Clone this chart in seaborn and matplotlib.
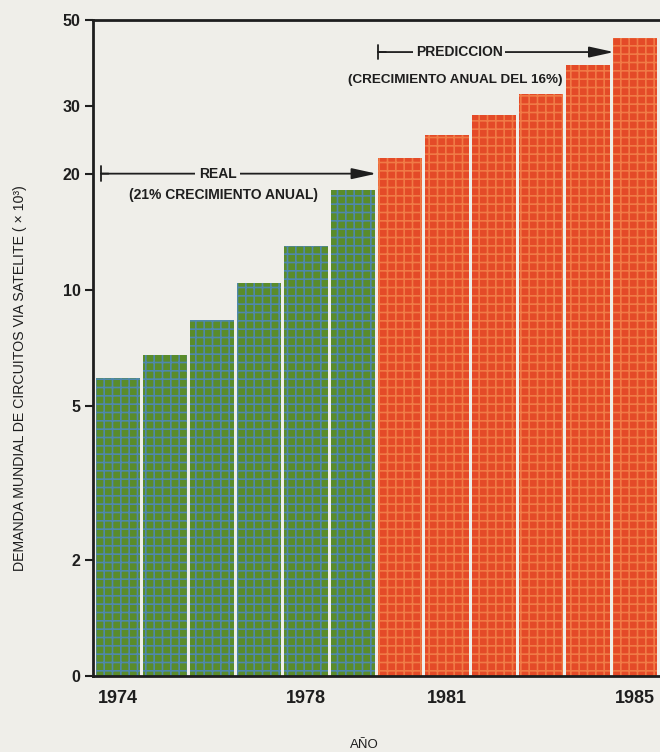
import matplotlib
matplotlib.use("Agg")
import matplotlib.pyplot as plt
import numpy as np
import pandas as pd
import seaborn as sns

# Demanda mundial de circuitos vía satélite (miles de circuitos)
anios = ["1974", "1975", "1976", "1977", "1978", "1979",
         "1980", "1981", "1982", "1983", "1984", "1985"]
valores = [5.9, 6.8, 8.35, 10.4, 13.0, 18.1,
           22.0, 25.2, 28.4, 32.2, 38.2, 44.9]
fases = ["Real"] * 6 + ["Predicción"] * 6

ytick_vals = [1, 2, 5, 10, 20, 30, 50]
ytick_labels = ["0", "2", "5", "10", "20", "30", "50"]
xtick_labels = ["1974", "1978", "1981", "1985"]

PAPER = "#efeee9"
INK = "#1e1e1e"
VERDE, VERDE_TRAMA = "#5a8c2a", "#4f88ab"
ROJO, ROJO_TRAMA = "#e44a28", "#f07a46"

sns.set_style("white")
plt.rcParams["font.family"] = ["Liberation Sans", "DejaVu Sans"]
plt.rcParams["hatch.linewidth"] = 1.2

df = pd.DataFrame({"anio": anios, "valor": valores, "fase": fases})

fig = plt.figure(figsize=(6.6, 7.52), dpi=100, facecolor=PAPER)
ax = fig.add_axes([93 / 660, 76 / 752, 1 - 93 / 660, (676 - 20) / 752])
ax.set_facecolor(PAPER)

sns.barplot(data=df, x="anio", y="valor", hue="fase",
            palette={"Real": VERDE, "Predicción": ROJO},
            dodge=False, width=0.94, saturation=1, legend=False, ax=ax)

# plaid-like texture on the bars
for p in ax.patches:
    centro = p.get_x() + p.get_width() / 2
    p.set_hatch("++")
    p.set_edgecolor(VERDE_TRAMA if centro < 5.5 else ROJO_TRAMA)
    p.set_linewidth(0)

ax.set_yscale("log")
ax.set_ylim(1, 50)
ax.set_xlim(-0.53, 11.53)
ax.set_yticks(ytick_vals)
ax.set_yticklabels(ytick_labels)
ax.yaxis.set_minor_locator(matplotlib.ticker.NullLocator())
ax.set_xticks([anios.index(a) for a in xtick_labels])
ax.set_xticklabels(xtick_labels)
ax.set_xlabel("")
ax.set_ylabel("")

for lab in ax.get_yticklabels():
    lab.set_fontweight("bold")
    lab.set_fontsize(11.5)
    lab.set_color(INK)
for lab in ax.get_xticklabels():
    lab.set_fontweight("bold")
    lab.set_fontsize(13)
    lab.set_color(INK)

ax.tick_params(axis="y", direction="out", length=6, width=1.5, pad=3, color=INK, left=True)
ax.tick_params(axis="x", length=0, pad=10)

for side in ["left", "bottom", "top"]:
    ax.spines[side].set_visible(True)
    ax.spines[side].set_color(INK)
    ax.spines[side].set_linewidth(2.0)
ax.spines["right"].set_visible(False)

arrow_kw = dict(color=INK, lw=1.3, shrinkA=0, shrinkB=0, mutation_scale=15)
txt_kw = dict(fontsize=10, fontweight="bold", color=INK)

# REAL arrow
y_real = 20
ax.annotate("", xy=(5.5, y_real), xytext=(-0.36, y_real),
            arrowprops=dict(arrowstyle="-|>,head_length=1.0,head_width=0.22", **arrow_kw))
ax.annotate("", xy=(-0.2, y_real), xytext=(-0.36, y_real),
            arrowprops=dict(arrowstyle="|-|,widthA=0.35,widthB=0", **arrow_kw))
ax.text(2.12, y_real, "REAL", ha="center", va="center",
        bbox=dict(boxstyle="square,pad=0.25", fc=PAPER, ec="none"), **txt_kw)
ax.text(2.245, 17.6, "(21% CRECIMIENTO ANUAL)", ha="center", va="center", **txt_kw)

# PREDICCION arrow
y_pred = 41.3
ax.annotate("", xy=(10.55, y_pred), xytext=(5.53, y_pred),
            arrowprops=dict(arrowstyle="-|>,head_length=1.0,head_width=0.22", **arrow_kw))
ax.annotate("", xy=(5.7, y_pred), xytext=(5.53, y_pred),
            arrowprops=dict(arrowstyle="|-|,widthA=0.35,widthB=0", **arrow_kw))
ax.text(7.26, y_pred, "PREDICCION", ha="center", va="center",
        bbox=dict(boxstyle="square,pad=0.2", fc=PAPER, ec="none"), **txt_kw)
ax.text(7.18, 35.0, "(CRECIMIENTO ANUAL DEL 16%)", ha="center", va="center",
        fontsize=9.7, fontweight="bold", color=INK)

fig.text(20 / 660, 1 - 378 / 752,
         "DEMANDA MUNDIAL DE CIRCUITOS VIA SATELITE ( × 10³)",
         rotation=90, ha="center", va="center", fontsize=10.2, color=INK)
fig.text(364 / 660, 1 - 745 / 752, "AÑO", ha="center", va="center",
         fontsize=9.5, color=INK)

fig.savefig("out.png", dpi=100, facecolor=PAPER)
